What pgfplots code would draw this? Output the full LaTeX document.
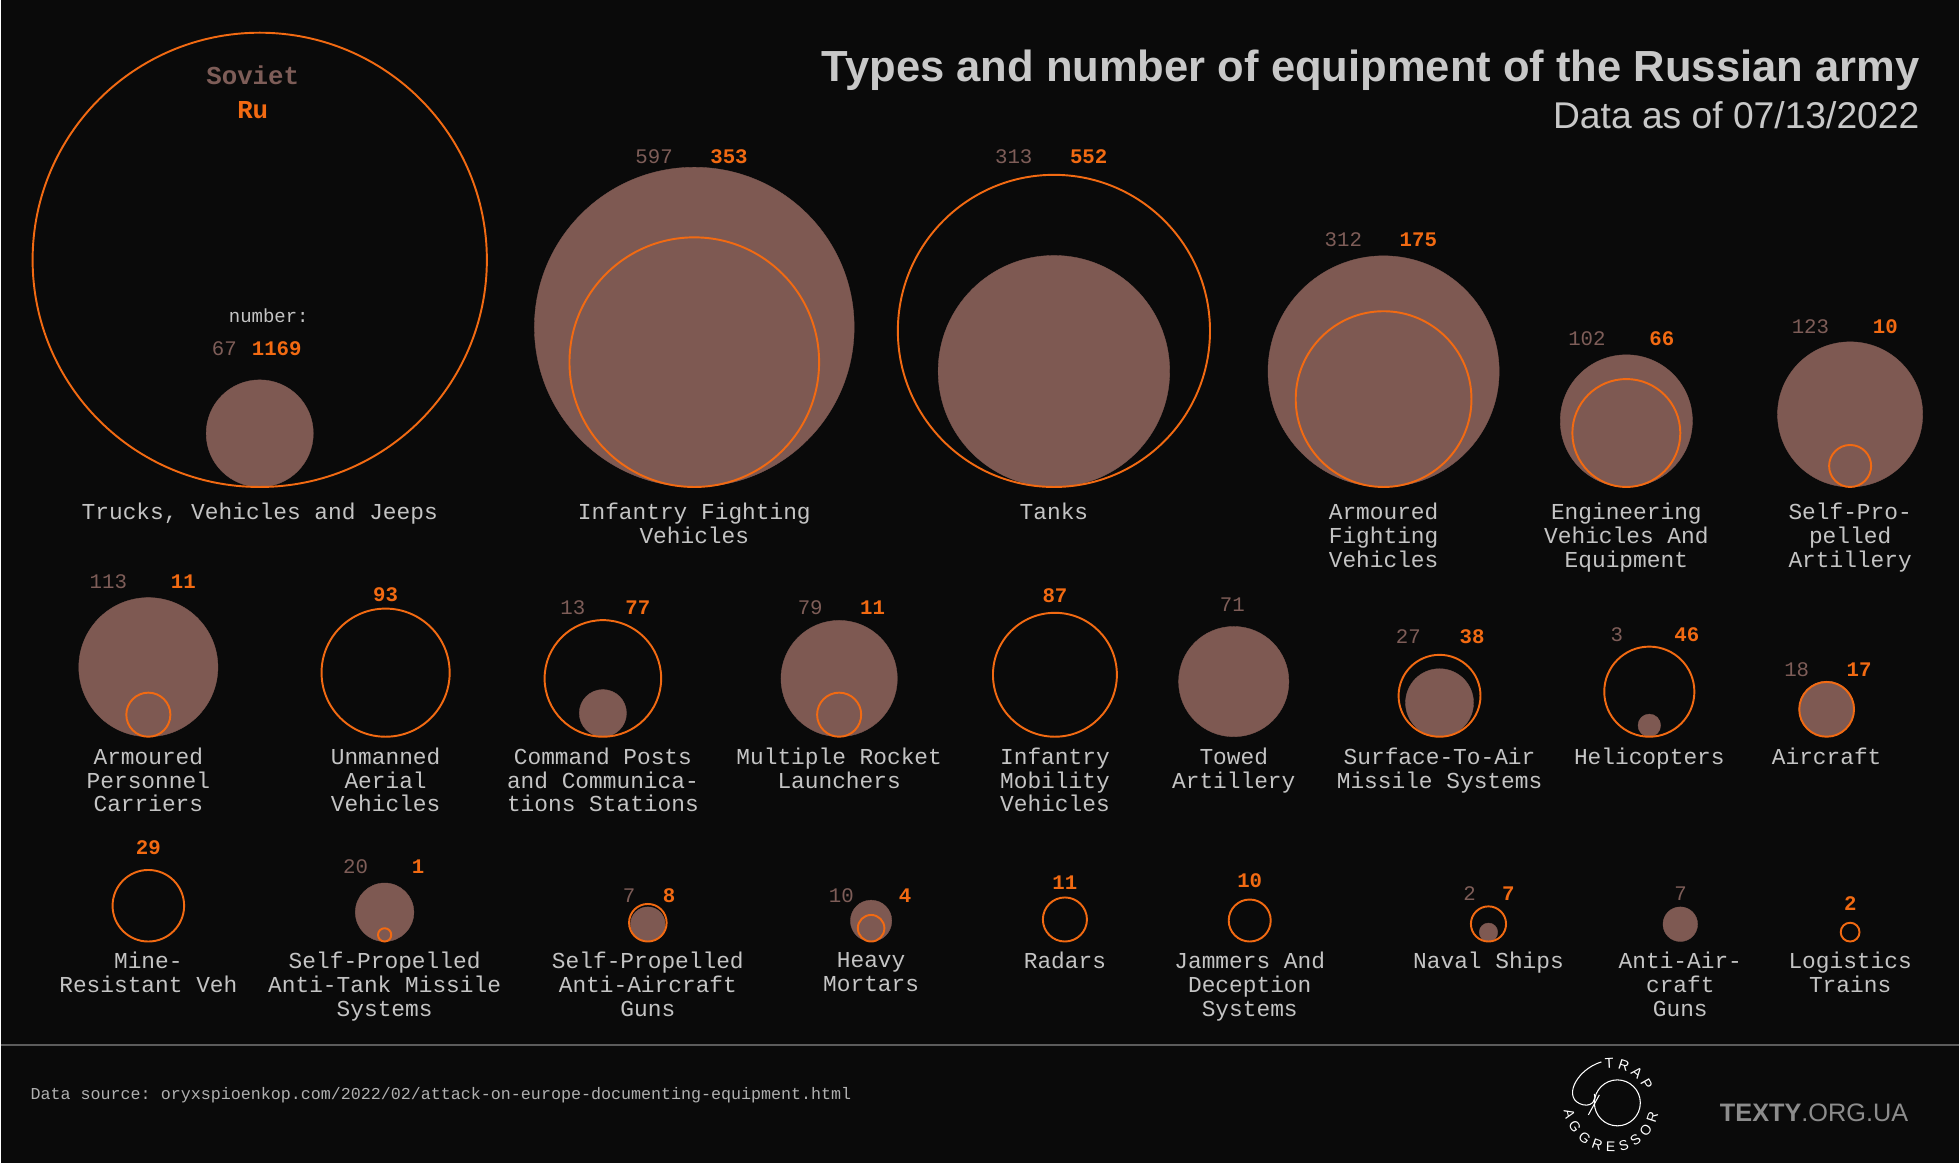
\documentclass[border=0pt]{standalone}
\usepackage{pgfplots}
\pgfplotsset{compat=1.18}
\usepackage{pgfplotstable}
\usepackage{fontspec}
\setmainfont{Liberation Sans}
\setmonofont{Liberation Mono}
\usetikzlibrary{decorations.text}
\definecolor{bg}{HTML}{0A0A0A}
\definecolor{sov}{HTML}{7E5952}
\definecolor{sovtxt}{HTML}{7E5D58}
\definecolor{ru}{HTML}{F26A12}
\definecolor{lab}{HTML}{C4C4C4}
\definecolor{ttl}{HTML}{C8C8C8}
\definecolor{foot}{HTML}{B0B0B0}
\definecolor{rulec}{HTML}{5C5C5C}
\definecolor{texty}{HTML}{8C8C8C}

% x = centre (px), b = baseline of the circles (px, y up), v = number
\pgfplotstableread{
x      b      v
259    676.5  67
694    676.5  597
1054   676.5  313
1384   676.5  312
1627   676.5  102
1851   676.5  123
147.5  426.5  113
602.5  426.5  13
839    426.5  79
1234   426.5  71
1440   426.5  27
1650   426.5  3
1827.5 426.5  18
384    221.5  20
647.5  221.5  7
871    221.5  10
1489   221.5  2
1681   221.5  7
}\soviet

\pgfplotstableread{
x      b      v
259    676.5  1169
694    676.5  353
1054   676.5  552
1384   676.5  175
1627   676.5  66
1851   676.5  10
147.5  426.5  11
385    426.5  93
602.5  426.5  77
839    426.5  11
1055   426.5  87
1440   426.5  38
1650   426.5  46
1827.5 426.5  17
147.5  221.5  29
384    221.5  1
647.5  221.5  8
871    221.5  4
1065   221.5  11
1250   221.5  10
1489   221.5  7
1851   221.5  2
}\russia

\newcommand{\lbl}{\ttfamily\fontsize{6.5}{6.8}\selectfont}
\newcommand{\numf}{\ttfamily\fontsize{5.9}{6}\selectfont}
\newcommand{\sv}[3]{\node[font=\numf, text=sovtxt, anchor=base, inner sep=0pt] at (axis cs:#1,#2) {#3};}
\newcommand{\rn}[3]{\node[font=\numf\bfseries, text=ru, anchor=base, inner sep=0pt] at (axis cs:#1,#2) {#3};}
\newcommand{\lab}[3]{\node[font=\lbl, text=lab, align=center, anchor=north, inner sep=0pt] at (axis cs:#1,#2) {#3};}

\begin{document}
\begin{tikzpicture}
\begin{axis}[
  width=19.6cm, height=11.64cm, scale only axis,
  xmin=0, xmax=1960, ymin=0, ymax=1164,
  hide axis, clip=false,
]
\fill[bg] (rel axis cs:0,0) rectangle (rel axis cs:1,1);

% Soviet (filled)
\addplot[scatter, only marks, mark=*,
  scatter/use mapped color={draw=sov, fill=sov},
  mark options={line width=0.1pt},
  visualization depends on={1.8637*sqrt(\thisrow{v}) \as \rad},
  scatter/@pre marker code/.append style={/tikz/mark size=\rad},
] table[x=x, y expr={\thisrow{b}+6.55*sqrt(\thisrow{v})}] {\soviet};

% Russian (outline)
\addplot[scatter, only marks, mark=o,
  scatter/use mapped color={draw=ru},
  mark options={line width=0.55pt},
  visualization depends on={1.8921*sqrt(\thisrow{v}) \as \rad},
  scatter/@pre marker code/.append style={/tikz/mark size=\rad},
] table[x=x, y expr={\thisrow{b}+6.65*sqrt(\thisrow{v})}] {\russia};

% titles
\node[font=\bfseries\fontsize{12.4}{14}\selectfont, text=ttl, anchor=base east, inner sep=0pt] at (axis cs:1921,1082.3) {Types and number of equipment of the Russian army};
\node[font=\fontsize{10.6}{12}\selectfont, text=ttl, anchor=base east, inner sep=0pt] at (axis cs:1921,1035.7) {Data as of 07/13/2022};

% legend inside the big circle
\node[font=\ttfamily\bfseries\fontsize{7.35}{8}\selectfont, text=sovtxt, anchor=base, inner sep=0pt] at (axis cs:252,1079) {Soviet};
\node[font=\ttfamily\bfseries\fontsize{7.35}{8}\selectfont, text=ru, anchor=base, inner sep=0pt] at (axis cs:252,1045) {Ru};
\node[font=\ttfamily\fontsize{5.4}{6}\selectfont, text=lab, anchor=base, inner sep=0pt] at (axis cs:268,841) {number:};
\sv{223.5}{808}{67}
\rn{276}{808}{1169}

% numbers
\sv{653.75}{1000}{597}    \rn{728.75}{1000}{353}
\sv{1013.75}{1000}{313}   \rn{1088.75}{1000}{552}
\sv{1343.75}{917.25}{312} \rn{1418.75}{917.25}{175}
\sv{1587.5}{818.5}{102}   \rn{1662.5}{818.5}{66}
\sv{1811.25}{829.75}{123} \rn{1886.25}{829.75}{10}
\sv{107.5}{575}{113}      \rn{182.5}{575}{11}
\rn{385}{562.25}{93}
\sv{572.5}{548.5}{13}     \rn{637.5}{548.5}{77}
\sv{810}{548.5}{79}       \rn{872.5}{548.5}{11}
\rn{1055}{561}{87}
\sv{1232.5}{552.25}{71}
\sv{1408.75}{519.75}{27}  \rn{1472.5}{519.75}{38}
\sv{1617.5}{522.25}{3}    \rn{1687.5}{522.25}{46}
\sv{1797.5}{487.25}{18}   \rn{1860}{487.25}{17}
\rn{147.5}{308.5}{29}
\sv{355}{289.75}{20}      \rn{417.5}{289.75}{1}
\sv{628.75}{261}{7}       \rn{668.75}{261}{8}
\sv{841.25}{261}{10}      \rn{905}{261}{4}
\rn{1065}{273.5}{11}
\rn{1250}{276}{10}
\sv{1470}{262.25}{2}      \rn{1508.75}{262.25}{7}
\sv{1681.25}{262.25}{7}
\rn{1851.25}{252.25}{2}

% category labels
\lab{259}{661}{Trucks, Vehicles and Jeeps}
\lab{694}{661}{Infantry Fighting\\Vehicles}
\lab{1054}{661}{Tanks}
\lab{1384}{661}{Armoured\\Fighting\\Vehicles}
\lab{1627}{661}{Engineering\\Vehicles And\\Equipment}
\lab{1851}{661}{Self-Pro-\\pelled\\Artillery}
\lab{147.5}{416.3}{Armoured\\Personnel\\Carriers}
\lab{385}{416.3}{Unmanned\\Aerial\\Vehicles}
\lab{602.5}{416.3}{Command Posts\\and Communica-\\tions Stations}
\lab{839}{416.3}{Multiple Rocket\\Launchers}
\lab{1055}{416.3}{Infantry\\Mobility\\Vehicles}
\lab{1234}{416.3}{Towed\\Artillery}
\lab{1440}{416.3}{Surface-To-Air\\Missile Systems}
\lab{1650}{416.3}{Helicopters}
\lab{1827.5}{416.3}{Aircraft}
\lab{147.5}{211.5}{Mine-\\Resistant Veh}
\lab{384}{211.5}{Self-Propelled\\Anti-Tank Missile\\Systems}
\lab{647.5}{211.5}{Self-Propelled\\Anti-Aircraft\\Guns}
\lab{871}{211.5}{Heavy\\Mortars}
\lab{1065}{211.5}{Radars}
\lab{1250}{211.5}{Jammers And\\Deception\\Systems}
\lab{1489}{211.5}{Naval Ships}
\lab{1681}{211.5}{Anti-Air-\\craft\\Guns}
\lab{1851}{211.5}{Logistics\\Trains}

% footer
\draw[rulec, line width=0.57pt] (axis cs:0,118) -- (axis cs:1960,118);
\node[font=\ttfamily\fontsize{4.75}{5}\selectfont, text=foot, anchor=base west, inner sep=0pt] at (axis cs:29,63) {Data source: oryxspioenkop.com/2022/02/attack-on-europe-documenting-equipment.html};
\node[font=\fontsize{7.2}{8}\selectfont, text=texty, anchor=base west, inner sep=0pt] at (axis cs:1720,41) {\textbf{TEXTY}.ORG.UA};
\coordinate (logo) at (axis cs:1612,59);
\end{axis}

% logo
\begin{scope}[shift={(logo)}]
  \draw[white, line width=0.3pt] (0.06,0.01) circle[radius=0.23];
  \draw[white, line width=0.3pt] (-0.10,0.42) .. controls (-0.36,0.34) and (-0.50,0.04) .. (-0.28,-0.01)
      .. controls (-0.18,-0.03) and (-0.15,0.06) .. (-0.17,0.10);
  \draw[white, line width=0.3pt] (-0.23,-0.11) -- (-0.12,0.09);
  \path[decorate, decoration={text along path, text align={fit to path},
      text={|\fontsize{4.1}{4.5}\selectfont\color{white}|TRAP}}]
      (100:0.355) arc[start angle=100, end angle=22, radius=0.355];
  \path[decorate, decoration={text along path, text align={fit to path},
      text={|\fontsize{4.0}{4.5}\selectfont\color{white}|AGGRESSOR}}]
      (188:0.48) arc[start angle=188, end angle=348, radius=0.48];
\end{scope}
\end{tikzpicture}
\end{document}
